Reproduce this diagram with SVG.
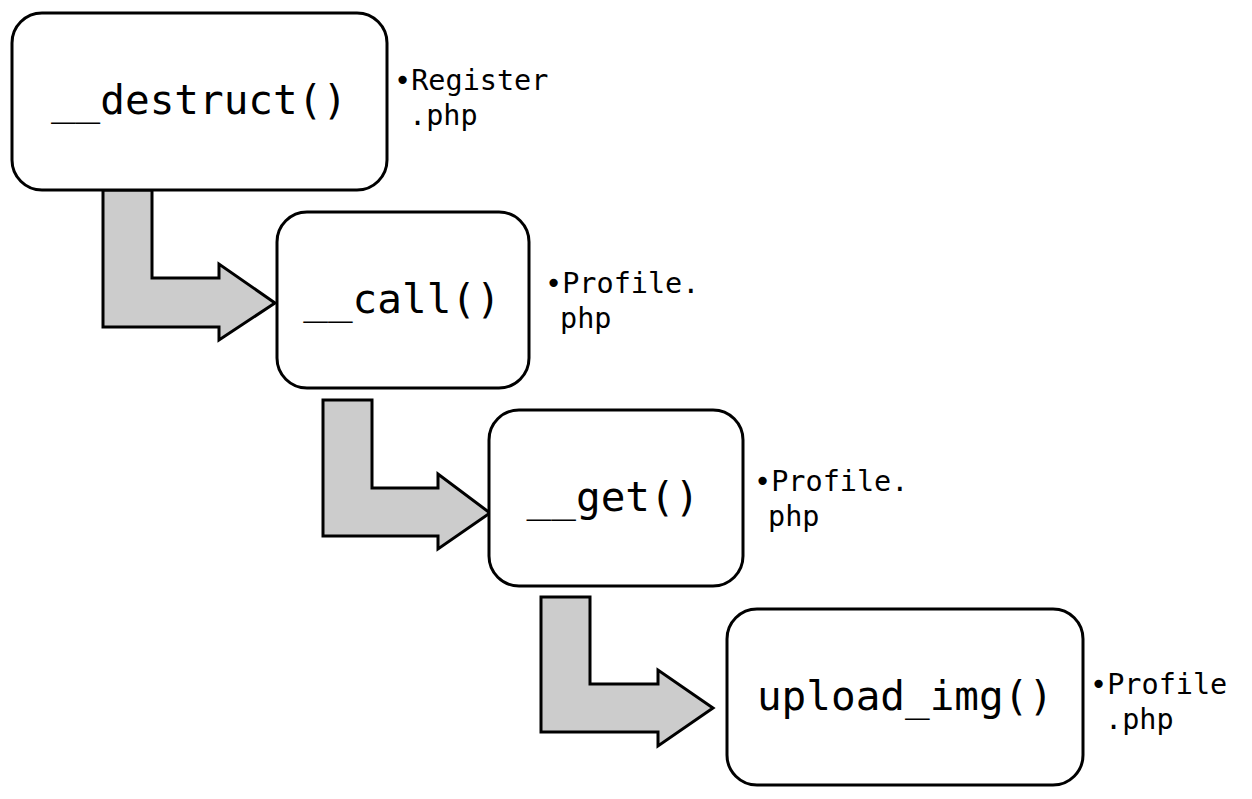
<svg xmlns="http://www.w3.org/2000/svg" width="1252" height="799" viewBox="0 0 1252 799">
<style>
.box{fill:#fff;stroke:#000;stroke-width:3}
.arr{fill:#ccc;stroke:#000;stroke-width:3;stroke-linejoin:miter}
.main{font-family:"DejaVu Sans Mono","Liberation Mono",monospace;font-size:41px;fill:#000;text-anchor:middle}
.lbl{font-family:"DejaVu Sans Mono","Liberation Mono",monospace;font-size:28.5px;fill:#000}
</style>
<rect width="1252" height="799" fill="#fff"/>
<g id="connectors">
<path class="arr" d="M103,190 L152,190 L152,278 L219,278 L219,264 L275,303 L219,340 L219,327 L103,327 Z"/>
<path class="arr" d="M323,400 L372,400 L372,488 L438,488 L438,474 L490,513 L438,549 L438,536 L323,536 Z"/>
<path class="arr" d="M541,597 L590,597 L590,684 L658,684 L658,670 L713,708 L658,746 L658,732 L541,732 Z"/>
</g>
<g id="node-destruct">
<rect class="box" x="12" y="13" width="375" height="177" rx="30"/>
<text class="main" x="199" y="114">__destruct()</text>
<text class="lbl" x="394" y="90">•Register</text>
<text class="lbl" x="409" y="125">.php</text>
</g>
<g id="node-call">
<rect class="box" x="277" y="212" width="252" height="176" rx="30"/>
<text class="main" x="402" y="313">__call()</text>
<text class="lbl" x="545" y="293">•Profile.</text>
<text class="lbl" x="560" y="328">php</text>
</g>
<g id="node-get">
<rect class="box" x="489" y="410" width="254" height="176" rx="30"/>
<text class="main" x="613" y="511">__get()</text>
<text class="lbl" x="754" y="491">•Profile.</text>
<text class="lbl" x="768" y="526">php</text>
</g>
<g id="node-upload">
<rect class="box" x="727" y="609" width="356" height="176" rx="30"/>
<text class="main" x="905" y="710">upload_img()</text>
<text class="lbl" x="1090" y="694">•Profile</text>
<text class="lbl" x="1105" y="729">.php</text>
</g>
</svg>
